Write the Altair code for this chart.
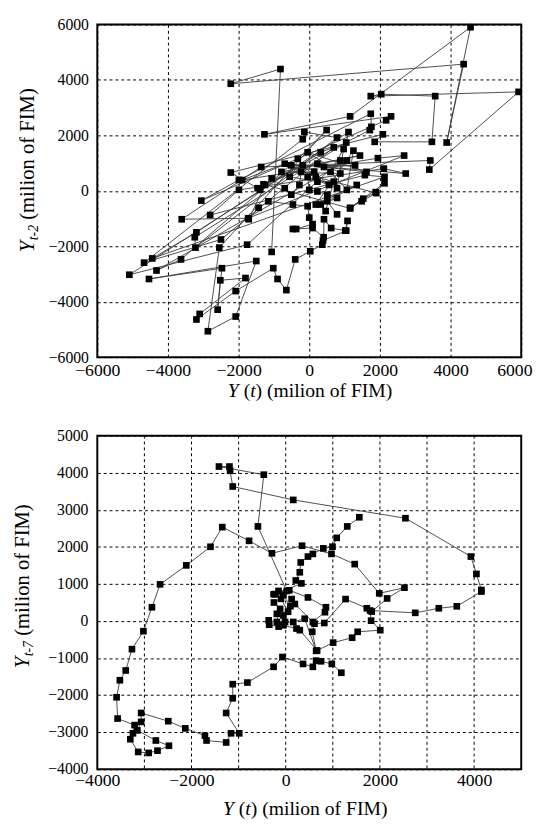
import altair as alt
import pandas as pd

# ---------------- data ----------------
# Panel 1: Y(t) vs Y(t-2)
top_x = [-1065, -815, -2222, 4370, 3889, 4565, 1157, -1269, 2315, 2176, -3056, -1991, 1741, 1759, 1713,
         -1463, -2222, 2083, 1852, 3472, 3565, 2037, 1741, 5926, 3398, 3426, -1361, -3611, -1731, 2685,
         1944, -1898, -694, 2731, 2111, -1991, -2806, 1574, 2130, -4444, -3194, 1111, 1046, -3241, -3222,
         787, -139, -185, -4676, -2500, 694, 324, -5093, -1759, 880, 1065, -4324, -3630, -324, 491,
         -2546, -2870, -2083, -1500, -4537, -2472, -2593, -2518, -1805, -3102, -3194, -2083, -1019, -898, -648,
         -398, 28, 370, 389, 1046, 1083, 1019, 620, 417, 407, 93, -463, -370, 93, 0,
         -46, -463, -1157, -1435, -1713, -1250, -1389, -1065, -694, -509, -278, -231, 139, 556, -46,
         0, 231, 509, 787, 324, 463, 694, 231, -556, -185, 185, 1898, 1481, 1157, 2130,
         1880, 1528, 1157, -1296, 231, 1435, -787, 880, -46, 1620, 417, 1296, -509, 787,
         972, 602, 1065, 1250, 185, 1343, 509, 787]
top_y = [-2203, 4393, 3863, 4570, 1743, 5901, 2686, 2038, 2686, 2544, -353, 389, 2780, 2309, 2191,
         94, 660, 2038, 1767, 1767, 3416, 3486, 3416, 3569, 766, 1095, 860, -1025, -989, 1272,
         1178, 389, 978, 624, 801, 35, -872, 565, 506, -2438, -1496, 2120, 1743, -1673, -2049,
         1920, 2120, 1861, -2591, -1755, 1567, 1390, -3027, -1943, 1095, 1095, -2874, -2473, 1154, 2191,
         -2049, -5065, -4535, -2532, -3180, -2791, -4287, -3227, -3145, -4440, -4641, -3616, -2791, -3180, -3581,
         -2473, -2179, -1943, -1790, -1437, -1084, -1437, -1343, -1025, -1673, -1343, -1378, -1378, -1201, -966,
         -554, -495, -377, -612, -1025, 212, 35, 448, 94, -141, 212, 683, 683, 212, 506,
         35, -24, -141, -259, -495, -730, 330, 330, 506, 918, 506, -82, -377, -612, 271,
         -47, -283, -636, 236, 978, 1272, 683, 624, 1390, 683, 860, 918, 918, 94,
         1508, 683, 35, 1449, -495, 212, -377, -848]

# Panel 2: Y(t) vs Y(t-7)
bot_x = [1181, 979, 750, 646, 576, 368, -69, -257, -813, -1125, -1125, -1264, -986, -1160, -1264,
         -1681, -1715, -2132, -2493, -3069, -3069, -3150, -2757, -2479, -2722, -2910, -3132, -3299, -3243, -3208,
         -3569, -3590, -3521, -3396, -3264, -3021, -2840, -2667, -2111, -1597, -1347, -778, -292, 347, 972,
         1465, 1986, 2521, 2153, 1826, 1722, 1271, 819, 611, 563, 646, 403, 160, -14, -188,
         -361, -350, -150, -188, -118, -250, -100, 50, 100, -50, -257, -153, 21, -590, -465,
         -1417, -1194, -1181, -1125, 160, 2542, 3931, 4049, 4153, 4153, 3632, 3250, 2750, 1792, 1813,
         2007, 1528, 1410, 1007, 667, 299, 229, -49, -49, 125, 194, 576, 833, 854, 472,
         76, -222, 333, 215, 299, 319, 472, 576, 799, 993, 1083, 1306, 1563]
bot_y = [-1395, -1157, -1086, -1068, -1236, -1157, -971, -1236, -1660, -1704, -2084, -2481, -3029, -3029, -3276,
         -3223, -3091, -2896, -2702, -2481, -2720, -2950, -3223, -3364, -3497, -3558, -3532, -3188, -3029, -2808,
         -2631, -2057, -1598, -1333, -759, -274, 371, 989, 1501, 2003, 2533, 2163, 1827, 2031, 1810,
         1535, 746, 900, 609, 256, 344, 592, -53, -71, -291, -804, 62, -26, -26, -26,
         18, -100, -150, 194, 327, 500, 600, 250, 400, 700, 724, 812, 812, 2552, 3947,
         4167, 4167, 4053, 3629, 3267, 2773, 1739, 1271, 838, 795, 397, 344, 221, 283, 9,
         -247, -291, -450, -583, -795, -247, -203, -115, 150, 592, 459, -26, 238, 371, 636,
         829, 723, 1015, 1094, 1315, 1580, 1739, 1810, 1960, 2004, 2243, 2552, 2799]

top_ticks = [-6000, -4000, -2000, 0, 2000, 4000, 6000]
bot_xticks = [-4000, -2000, 0, 2000, 4000]
bot_xgrid = [-3000, -2000, -1000, 0, 1000, 2000, 3000, 4000]
bot_yticks = [-4000, -3000, -2000, -1000, 0, 1000, 2000, 3000, 4000, 5000]

x_title = ["Y", "(", "t", ") (milion of FIM)"]
x_title_italic = [True, False, True, False]
y_title_top = ["Y", "t-2", "(milion of FIM)"]
y_title_bot = ["Y", "t-7", "(milion of FIM)"]

# ---------------- styling ----------------
FONT = "Liberation Serif"
W = 432
DASH = [3, 3]


def title_layers(x0, xbase, y_x, y_y0, ytexts):
    layers = []
    offs = [0, 16.12, 22.78, 28.34]
    for txt, it, dx in zip(x_title, x_title_italic, offs):
        layers.append(
            alt.Chart(pd.DataFrame({"t": [txt]})).mark_text(
                align="left", baseline="alphabetic", font=FONT, fontSize=20,
                fontStyle="italic" if it else "normal", color="black"
            ).encode(text="t:N", x=alt.value(x0 + dx), y=alt.value(xbase))
        )
    specs = [
        (ytexts[0], 21, "italic", y_x, y_y0),
        (ytexts[1], 14, "italic", y_x + 4, y_y0 - 12.2),
        (ytexts[2], 21, "normal", y_x, y_y0 - 33.0),
    ]
    for txt, fs, st, px, py in specs:
        layers.append(
            alt.Chart(pd.DataFrame({"t": [txt]})).mark_text(
                align="left", baseline="alphabetic", font=FONT, fontSize=fs,
                fontStyle=st, angle=270, color="black"
            ).encode(text="t:N", x=alt.value(px), y=alt.value(py))
        )
    return layers


def panel(xs, ys, dom, xvals, yvals, h, xgrid_vals, xlab_pad, titles, xlabel_extra, ytext_labels):
    df = pd.DataFrame({"x": xs, "y": ys, "i": list(range(len(xs)))})
    xsc = alt.Scale(domain=dom, nice=False, zero=False)
    ysc = alt.Scale(domain=dom, nice=False, zero=False)
    xax = alt.Axis(values=xvals, title=None, format="d", labelFontSize=18, labelPadding=xlab_pad,
                   labelFlush=False, labelOverlap=False, grid=xgrid_vals is None, **xlabel_extra)
    yax = alt.Axis(values=yvals, title=None, format="d", labelFontSize=16, labelPadding=9,
                   labelFlush=False, labelOverlap=False, labels=not ytext_labels)
    layers = []
    if xgrid_vals is not None:
        layers.append(
            alt.Chart(pd.DataFrame({"g": xgrid_vals})).mark_rule(
                color="black", strokeWidth=1, strokeDash=DASH
            ).encode(x=alt.X("g:Q", scale=xsc, axis=xax))
        )
    base = alt.Chart(df)
    line = base.mark_line(color="#3a3a3a", strokeWidth=0.9).encode(
        x=alt.X("x:Q", scale=xsc, axis=xax),
        y=alt.Y("y:Q", scale=ysc, axis=yax),
        order="i:Q",
    )
    pts = base.mark_square(size=46, color="black", opacity=1).encode(
        x=alt.X("x:Q", scale=xsc, axis=xax),
        y=alt.Y("y:Q", scale=ysc, axis=yax),
    )
    layers += [line, pts]
    if ytext_labels:
        layers.append(
            alt.Chart(pd.DataFrame({"v": yvals})).transform_calculate(
                lbl="format(datum.v, 'd')"
            ).mark_text(
                align="right", baseline="middle", font=FONT, fontSize=16, color="black"
            ).encode(x=alt.value(-9), y=alt.Y("v:Q", scale=ysc, axis=yax), text="lbl:N")
        )
    layers += titles
    return alt.layer(*layers).properties(width=W, height=h)


top_extra = {
    "labelAlign": {"condition": {"test": "datum.value == 6000", "value": "right"}, "value": "center"},
    "labelOffset": {"condition": {"test": "datum.value == 6000", "value": 11}, "value": 0},
}

top = panel(top_x, top_y, [-6000, 6000], top_ticks, top_ticks, 339, None, 5,
            title_layers(133, 380, -64.5, 232, y_title_top), top_extra, False)
bot = panel(bot_x, bot_y, [-4000, 5000], bot_xticks, bot_yticks, 340, bot_xgrid, 2,
            title_layers(128, 387, -69.5, 237, y_title_bot), {}, True)

chart = alt.vconcat(top, bot, spacing=25).properties(
    padding={"left": 3, "top": 0, "right": 0, "bottom": 0}
).configure_view(
    stroke="black", strokeWidth=2
).configure_axis(
    labelFont=FONT, labelColor="black", grid=True, gridColor="black",
    gridDash=DASH, gridWidth=1, gridOpacity=1, domain=False, ticks=False, tickSize=0,
    labelOverlap=False,
)

chart.save("out.html", embed_options={"renderer": "svg", "actions": False})
